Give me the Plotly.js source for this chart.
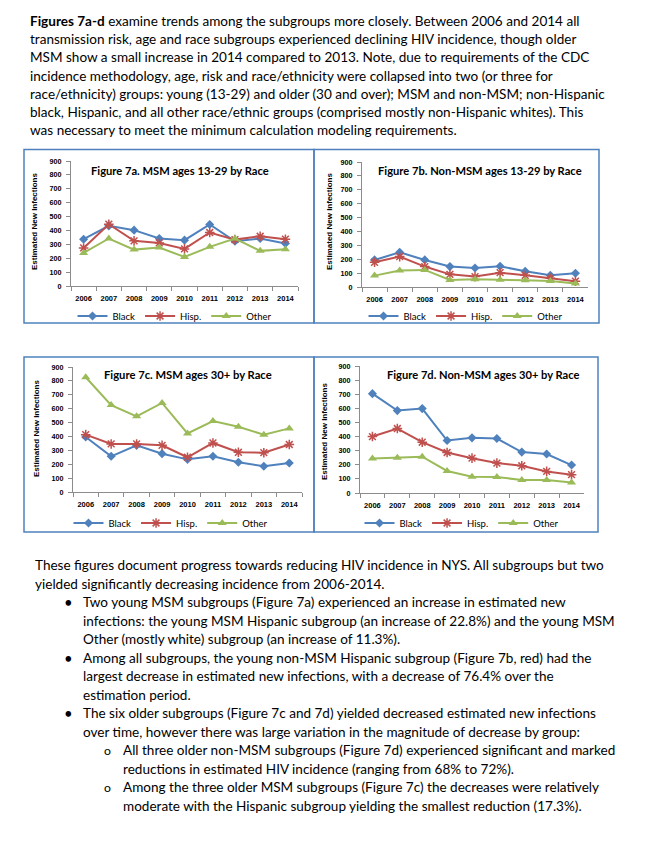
<!DOCTYPE html>
<html>
<head>
<meta charset="utf-8">
<script src="https://cdn.plot.ly/plotly-3.0.1.min.js"></script>
<style>
html,body{margin:0;padding:0;background:#fff;}
#chart{width:656px;height:841px;}
</style>
</head>
<body>
<div id="chart"></div>
<script>
// ---------------- DATA ----------------
const years = ['2006','2007','2008','2009','2010','2011','2012','2013','2014'];
const seriesNames = ['Black','Hisp.','Other'];

const black7a = [337,433,402,342,330,443,322,342,306];
const hisp7a  = [274,445,325,310,267,385,334,358,337];
const other7a = [238,342,262,277,209,282,342,253,265];

const black7b = [195,250,195,147,137,149,113,84,99];
const hisp7b  = [178,219,147,91,75,103,84,63,42];
const other7b = [82,118,123,51,55,53,48,43,26];

const black7c = [396,257,336,276,235,257,214,185,209];
const hisp7c  = [413,346,346,336,250,353,286,283,342];
const other7c = [826,626,545,641,422,511,470,413,458];

const black7d = [704,584,598,372,391,386,290,276,198];
const hisp7d  = [400,457,360,287,247,212,193,153,130];
const other7d = [245,250,257,156,115,113,92,92,75];

const panelTitles = [
  'Figure 7a. MSM ages 13-29 by Race',
  'Figure 7b. Non-MSM ages 13-29 by Race',
  'Figure 7c. MSM ages 30+ by Race',
  'Figure 7d. Non-MSM ages 30+ by Race'
];
const yTitle = 'Estimated New Infections';
const yTicks = [0,100,200,300,400,500,600,700,800,900];

const topParagraph = [
  '<b>Figures 7a-d</b> examine trends among the subgroups more closely. Between 2006 and 2014 all',
  'transmission risk, age and race subgroups experienced declining HIV incidence, though older',
  'MSM show a small increase in 2014 compared to 2013. Note, due to requirements of the CDC',
  'incidence methodology, age, risk and race/ethnicity were collapsed into two (or three for',
  'race/ethnicity) groups: young (13-29) and older (30 and over); MSM and non-MSM; non-Hispanic',
  'black, Hispanic, and all other race/ethnic groups (comprised mostly non-Hispanic whites). This',
  'was necessary to meet the minimum calculation modeling requirements.'
];
// [indent level, marker, text]
const bottomLines = [
  [0,'','These figures document progress towards reducing HIV incidence in NYS. All subgroups but two'],
  [0,'','yielded significantly decreasing incidence from 2006-2014.'],
  [1,'•','Two young MSM subgroups (Figure 7a) experienced an increase in estimated new'],
  [1,'','infections: the young MSM Hispanic subgroup (an increase of 22.8%) and the young MSM'],
  [1,'','Other (mostly white) subgroup (an increase of 11.3%).'],
  [1,'•','Among all subgroups, the young non-MSM Hispanic subgroup (Figure 7b, red) had the'],
  [1,'','largest decrease in estimated new infections, with a decrease of 76.4% over the'],
  [1,'','estimation period.'],
  [1,'•','The six older subgroups (Figure 7c and 7d) yielded decreased estimated new infections'],
  [1,'','over time, however there was large variation in the magnitude of decrease by group:'],
  [2,'o','All three older non-MSM subgroups (Figure 7d) experienced significant and marked'],
  [2,'','reductions in estimated HIV incidence (ranging from 68% to 72%).'],
  [2,'o','Among the three older MSM subgroups (Figure 7c) the decreases were relatively'],
  [2,'','moderate with the Hispanic subgroup yielding the smallest reduction (17.3%).']
];

// ---------------- LAYOUT HELPERS ----------------
const W = 656, H = 841;
const px = v => v / W;
const py = v => 1 - v / H;

function fitSize(text, family, weight, target, fallback){
  try{
    const c = document.createElement('canvas').getContext('2d');
    c.font = weight + ' 100px "' + family + '"';
    const w = c.measureText(text.replace(/<[^>]+>/g,'')).width;
    if (w > 0) return 100 * target / w;
  }catch(e){}
  return fallback;
}
const BODY_FONT = 'Lato';
const bodySize = fitSize(bottomLines[0][2], BODY_FONT, 'normal', 570, 13.3);

// panel geometry (pixels)
const panels = [
  {xa:[71,298], ya:[161,286], box:[24,149.5,314,323], title:[180,170,178], ytl:[35,222], leg:[175,316]},
  {xa:[362,588], ya:[162,287], box:[314,149.5,599,323], title:[480,170,204], ytl:[330,222], leg:[466,316]},
  {xa:[73,302], ya:[367,492], box:[24,357,314,532], title:[188,375,168], ytl:[36,429], leg:[171,523]},
  {xa:[360,584], ya:[366,493], box:[314,357,598,532], title:[483,375,193], ytl:[324,432], leg:[462,523]}
];
const panelData = [
  [black7a,hisp7a,other7a],
  [black7b,hisp7b,other7b],
  [black7c,hisp7c,other7c],
  [black7d,hisp7d,other7d]
];
const colors = ['#4F81BD','#C0504D','#9BBB59'];
const markers = [
  {symbol:'diamond', size:7},
  {symbol:'asterisk-open', size:8},
  {symbol:'triangle-up', size:8}
];

const traces = [];
const layout = {
  width: W, height: H,
  margin:{l:0,r:0,t:0,b:0},
  paper_bgcolor:'#fff', plot_bgcolor:'rgba(0,0,0,0)',
  showlegend:true,
  annotations:[], shapes:[]
};

panels.forEach((p,i) => {
  const n = i === 0 ? '' : String(i+1);
  const xk = 'xaxis'+n, yk = 'yaxis'+n;
  layout[xk] = {
    domain:[px(p.xa[0]), px(p.xa[1])],
    anchor:'y'+n, type:'category', range:[-0.5,8.5],
    showline:true, linecolor:'#8C8C8C', linewidth:1,
    ticks:'outside', ticklen:4, tickcolor:'#8C8C8C', tickson:'boundaries',
    tickangle:0, automargin:false, ticklabelstandoff:5,
    showgrid:false, zeroline:false, fixedrange:true,
    tickfont:{family:'Liberation Sans', size:7.5, color:'#000', weight:'bold'}
  };
  layout[yk] = {
    domain:[py(p.ya[1]), py(p.ya[0])],
    anchor:'x'+n, range:[0,900],
    tickvals:yTicks,
    showline:true, linecolor:'#8C8C8C', linewidth:1,
    ticks:'outside', ticklen:4, tickcolor:'#8C8C8C', ticklabelstandoff:3,
    showgrid:false, zeroline:false, fixedrange:true, automargin:false,
    tickfont:{family:'Liberation Sans', size:7.2, color:'#000', weight:'bold'}
  };
  const legKey = i === 0 ? 'legend' : 'legend'+(i+1);
  layout[legKey] = {
    orientation:'h', x:px(p.leg[0]), xanchor:'center', y:py(p.leg[1]), yanchor:'middle',
    font:{family:BODY_FONT, size:9.5, color:'#000'}, bgcolor:'rgba(0,0,0,0)',
    itemwidth:30, tracegroupgap:0
  };
  panelData[i].forEach((vals,k) => {
    traces.push({
      type:'scatter', mode:'lines+markers',
      x:years, y:vals, name:seriesNames[k],
      xaxis:'x'+n, yaxis:'y'+n, legend:legKey,
      line:{color:colors[k], width:2},
      marker:{symbol:markers[k].symbol, size:markers[k].size, color:colors[k],
              line:{color:colors[k], width: k===1 ? 1.5 : 0}}
    });
  });
  // box
  layout.shapes.push({type:'rect', xref:'paper', yref:'paper',
    x0:px(p.box[0]), x1:px(p.box[2]), y0:py(p.box[3]), y1:py(p.box[1]),
    line:{color:'#4F81BD', width:1.5}, fillcolor:'rgba(0,0,0,0)'});
  // title
  const tSize = fitSize(panelTitles[i], BODY_FONT, 'bold', p.title[2], 11);
  layout.annotations.push({xref:'paper', yref:'paper', x:px(p.title[0]), y:py(p.title[1]),
    xanchor:'center', yanchor:'middle', showarrow:false,
    text:'<b>'+panelTitles[i]+'</b>', font:{family:BODY_FONT, size:tSize, color:'#000'}});
  // y axis title
  layout.annotations.push({xref:'paper', yref:'paper', x:px(p.ytl[0]), y:py(p.ytl[1]),
    xanchor:'center', yanchor:'middle', showarrow:false, textangle:-90,
    text:'<b>'+yTitle+'</b>', font:{family:'Liberation Sans', size:8, color:'#000'}});
});

// body text
topParagraph.forEach((t,i) => {
  layout.annotations.push({xref:'paper', yref:'paper', x:px(28), y:py(21 + 18.2*i),
    xanchor:'left', yanchor:'middle', showarrow:false, text:t,
    font:{family:BODY_FONT, size:bodySize, color:'#000'}});
});
const indentText = [33, 81, 121];
const indentMark = [0, 62, 102];
bottomLines.forEach((l,i) => {
  const yy = py(565 + 18.5*i);
  if (l[1]) {
    layout.annotations.push({xref:'paper', yref:'paper', x:px(indentMark[l[0]]), y:yy,
      xanchor:'left', yanchor:'middle', showarrow:false, text:l[1],
      font:{family:BODY_FONT, size: l[1]==='•' ? bodySize*1.1 : bodySize*0.9, color:'#000'}});
  }
  layout.annotations.push({xref:'paper', yref:'paper', x:px(indentText[l[0]]), y:yy,
    xanchor:'left', yanchor:'middle', showarrow:false, text:l[2],
    font:{family:BODY_FONT, size:bodySize, color:'#000'}});
});

Plotly.newPlot('chart', traces, layout, {displayModeBar:false, staticPlot:true});
</script>
</body>
</html>
